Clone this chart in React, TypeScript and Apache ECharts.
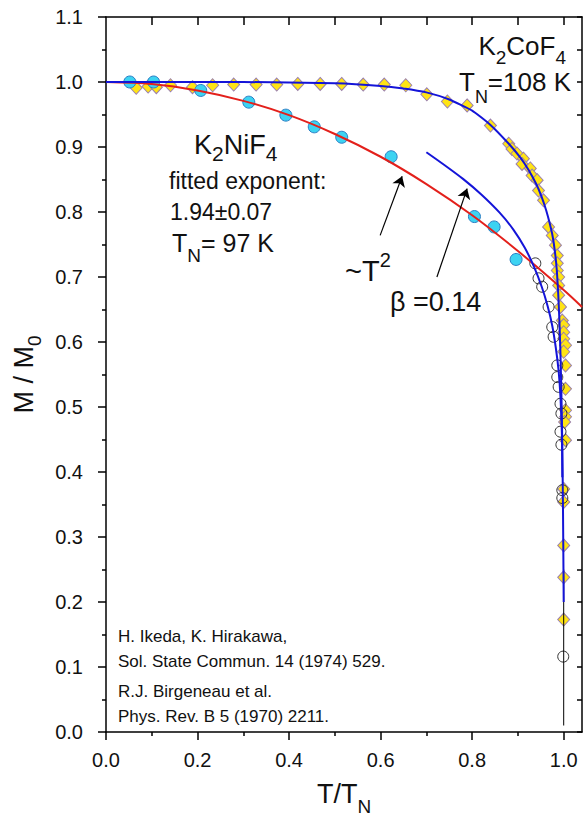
import React, { useEffect, useRef } from "react";
import * as echarts from "echarts";

// ---------- axis ticks ----------
const xMajorTicks = [0, 0.2, 0.4, 0.6, 0.8, 1.0];
const xMinorTicks = [0.1, 0.3, 0.5, 0.7, 0.9];
const xTopTicks = [0.1, 0.2, 0.3, 0.4, 0.5, 0.6, 0.7, 0.8, 0.9, 1.0];

// ---------- K2NiF4 (Ikeda & Hirakawa), filled cyan circles ----------
const niT = [0.052, 0.104, 0.207, 0.312, 0.393, 0.455, 0.515, 0.623, 0.805, 0.848, 0.896];
const niM = [1.0, 1.0, 0.987, 0.969, 0.949, 0.931, 0.915, 0.885, 0.793, 0.777, 0.727];

// ---------- K2CoF4 (Birgeneau et al.), yellow diamonds ----------
const coT = [
  0.066, 0.092, 0.11, 0.141, 0.189, 0.233, 0.279, 0.328, 0.373, 0.419, 0.468, 0.515, 0.562,
  0.608, 0.655, 0.701, 0.746, 0.789, 0.84, 0.88, 0.887, 0.898, 0.912, 0.909, 0.927, 0.931,
  0.942, 0.945, 0.956, 0.967, 0.975, 0.982, 0.986, 0.986, 0.986, 0.989, 0.989, 0.989, 0.993,
  0.997, 1.0, 1.0, 1.0, 1.004, 1.0, 1.004, 1.004, 1.004, 1.004, 1.002, 1.004, 1.0, 1.0, 1.0,
  1.0, 1.0,
];
const coM = [
  0.991, 0.993, 0.992, 0.995, 0.992, 0.995, 0.996, 0.996, 0.996, 0.997, 0.997, 0.997, 0.996,
  0.996, 0.995, 0.981, 0.97, 0.964, 0.933, 0.905, 0.897, 0.89, 0.882, 0.874, 0.867, 0.856,
  0.849, 0.833, 0.818, 0.777, 0.764, 0.749, 0.733, 0.721, 0.71, 0.7, 0.687, 0.672, 0.654,
  0.633, 0.626, 0.615, 0.605, 0.595, 0.585, 0.564, 0.528, 0.495, 0.485, 0.477, 0.449, 0.374,
  0.354, 0.287, 0.238, 0.173,
];

// ---------- K2NiF4 (Birgeneau et al.), open circles ----------
const openT = [0.938, 0.945, 0.953, 0.967, 0.975, 0.978, 0.986, 0.986, 0.989, 0.993, 0.995, 0.993, 0.995, 0.997, 0.997, 0.999];
const openM = [0.721, 0.698, 0.685, 0.654, 0.623, 0.608, 0.564, 0.546, 0.531, 0.505, 0.49, 0.462, 0.442, 0.372, 0.36, 0.116];

// ---------- curves ----------
const coFitT = [0, 0.3, 0.5, 0.6, 0.65, 0.7, 0.75, 0.8, 0.84, 0.88, 0.905, 0.923, 0.94, 0.952, 0.962, 0.97, 0.976, 0.981, 0.985, 0.988, 0.9905, 0.993, 0.995, 0.997, 0.9985, 0.9995, 1.0];
const coFitM = [1.0, 1.0, 0.998, 0.994, 0.99, 0.984, 0.973, 0.956, 0.934, 0.905, 0.884, 0.865, 0.843, 0.823, 0.802, 0.781, 0.762, 0.738, 0.71, 0.675, 0.635, 0.58, 0.52, 0.44, 0.34, 0.25, 0.2];

const niFitT = [0, 0.1, 0.2, 0.3, 0.4, 0.5, 0.6, 0.7, 0.8, 0.9, 1.0, 1.04];
const niFitM = [1.0, 0.997, 0.987, 0.971, 0.949, 0.92, 0.885, 0.843, 0.795, 0.74, 0.68, 0.654];

const betaT = [0.7, 0.74, 0.78, 0.82, 0.86, 0.89, 0.915, 0.935, 0.952, 0.965, 0.975, 0.983, 0.989, 0.993, 0.996, 0.997];
const betaM = [0.892, 0.872, 0.851, 0.827, 0.799, 0.773, 0.745, 0.716, 0.685, 0.655, 0.625, 0.59, 0.555, 0.515, 0.46, 0.392];

const tnLineT = [1.0, 1.0];
const tnLineM = [0.01, 0.25];

// arrows: [fromT, fromM, toT, toM]
const arrowT2 = [0.599, 0.764, 0.647, 0.855];
const arrowBeta = [0.723, 0.7, 0.789, 0.836];

const zip = (a: number[], b: number[]) => a.map((v, i) => [v, b[i]]);

const FONT = "'Liberation Sans', Arial, Helvetica, sans-serif";
const INK = "#111";

const tok = (fs: number, padTop = 0, padBottom = 0) => ({
  fontSize: fs,
  lineHeight: fs,
  fontFamily: FONT,
  color: INK,
  fill: INK,
  verticalAlign: "top",
  padding: [padTop, 0, padBottom, 0],
});

const txt = (x: number, y: number, text: string, rich: any, align = "left") => ({
  type: "text",
  x,
  y,
  silent: true,
  style: {
    text,
    rich,
    fill: INK,
    fontFamily: FONT,
    align,
    verticalAlign: "top",
  },
});

export default function App() {
  const ref = useRef<HTMLDivElement>(null);

  useEffect(() => {
    if (!ref.current) return;
    const chart = echarts.init(ref.current, undefined, { renderer: "svg" });
    const axisLine = { show: true, onZero: false, lineStyle: { color: "#000", width: 1.5 } };
    const tickStyle = { color: "#000", width: 1.5 };

    const option: any = {
      animation: false,
      backgroundColor: "#fff",
      grid: { left: 106, right: 3, top: 17, bottom: 84, containLabel: false, outerBoundsMode: "none" },
      xAxis: [
        {
          type: "value",
          min: 0,
          max: 1.04,
          position: "bottom",
          axisLine,
          axisTick: { show: true, inside: false, length: 8, customValues: xMajorTicks, lineStyle: tickStyle },
          axisLabel: {
            customValues: xMajorTicks,
            formatter: (v: number) => v.toFixed(1),
            fontSize: 20,
            fontFamily: FONT,
            color: INK,
            margin: 18,
          },
          splitLine: { show: false },
          name: "{a|T/T}{s|N}",
          nameLocation: "middle",
          nameGap: 48,
          nameTextStyle: { rich: { a: tok(27), s: tok(19, 17) } },
        },
        {
          type: "value",
          min: 0,
          max: 1.04,
          position: "bottom",
          axisLine: { show: false, onZero: false },
          axisTick: { show: true, inside: false, length: 4, customValues: xMinorTicks, lineStyle: tickStyle },
          axisLabel: { show: false },
          splitLine: { show: false },
        },
        {
          type: "value",
          min: 0,
          max: 1.04,
          position: "top",
          axisLine,
          axisTick: { show: true, inside: true, length: 8, customValues: xTopTicks, lineStyle: tickStyle },
          axisLabel: { show: false },
          splitLine: { show: false },
        },
      ],
      yAxis: [
        {
          type: "value",
          min: 0,
          max: 1.1,
          interval: 0.1,
          position: "left",
          axisLine,
          axisTick: { show: true, inside: false, length: 8, lineStyle: tickStyle },
          minorTick: { show: true, splitNumber: 2, length: 4, lineStyle: tickStyle },
          axisLabel: {
            formatter: (v: number) => v.toFixed(1),
            fontSize: 20,
            fontFamily: FONT,
            color: INK,
            margin: 23,
          },
          splitLine: { show: false },
          minorSplitLine: { show: false },
          name: "{a|M / M}{s|0}",
          nameLocation: "middle",
          nameRotate: 90,
          nameGap: 67,
          nameTextStyle: { rich: { a: tok(27), s: tok(19, 15) } },
        },
        {
          type: "value",
          min: 0,
          max: 1.1,
          interval: 0.05,
          position: "right",
          axisLine,
          axisTick: { show: true, inside: true, length: 5, lineStyle: tickStyle },
          axisLabel: { show: false },
          splitLine: { show: false },
        },
      ],
      series: [
        {
          type: "scatter",
          silent: true,
          data: zip(coT, coM),
          symbol: "diamond",
          symbolSize: [12, 13],
          itemStyle: { color: "#ffe414", borderColor: "#9a7fae", borderWidth: 1, opacity: 1 },
        },
        {
          type: "scatter",
          silent: true,
          data: zip(openT, openM),
          symbol: "circle",
          symbolSize: 11,
          itemStyle: { color: "rgba(255,255,255,0)", borderColor: "#333", borderWidth: 1, opacity: 1 },
        },
        {
          type: "scatter",
          silent: true,
          data: zip(niT, niM),
          symbol: "circle",
          symbolSize: 12,
          itemStyle: { color: "#3dd3f2", borderColor: "#2a7ec4", borderWidth: 1, opacity: 1 },
        },
        {
          type: "line",
          silent: true,
          data: zip(tnLineT, tnLineM),
          showSymbol: false,
          lineStyle: { color: "#000", width: 1 },
        },
        {
          type: "line",
          silent: true,
          data: zip(niFitT, niFitM),
          showSymbol: false,
          smooth: 0.3,
          lineStyle: { color: "#e3201b", width: 2 },
        },
        {
          type: "line",
          silent: true,
          data: zip(betaT, betaM),
          showSymbol: false,
          smooth: 0.2,
          lineStyle: { color: "#1414d8", width: 2 },
        },
        {
          type: "line",
          silent: true,
          data: zip(coFitT, coFitM),
          showSymbol: false,
          smooth: 0.15,
          lineStyle: { color: "#1414d8", width: 2 },
        },
        {
          type: "line",
          silent: true,
          data: [],
          markLine: {
            silent: true,
            animation: false,
            symbol: ["none", "arrow"],
            symbolSize: 10,
            label: { show: false },
            lineStyle: { color: "#000", width: 1.2, type: "solid" },
            data: [
              [{ coord: [arrowT2[0], arrowT2[1]] }, { coord: [arrowT2[2], arrowT2[3]] }],
              [{ coord: [arrowBeta[0], arrowBeta[1]] }, { coord: [arrowBeta[2], arrowBeta[3]] }],
            ],
          },
        },
      ],
      graphic: {
        elements: [
          txt(566, 33, "{m|K}{s|2}{m|CoF}{s|4}", { m: tok(26), s: tok(19, 15) }, "right"),
          txt(571, 69, "{m|T}{s|N}{m|=108 K}", { m: tok(26), s: tok(18, 19) }, "right"),
          txt(194, 131, "{m|K}{s|2}{m|NiF}{s|4}", { m: tok(27), s: tok(21, 12) }),
          txt(169, 169, "{m|fitted exponent:}", { m: tok(23) }),
          txt(170, 200, "{m|1.94±0.07}", { m: tok(23) }),
          txt(172, 230, "{m|T}{s|N}{m|= 97 K}", { m: tok(25), s: tok(19, 16) }),
          txt(345, 250, "{m|~T}{p|2}", { m: tok(29, 6), p: tok(20) }),
          txt(390, 288, "{m|β =0.14}", { m: tok(27) }),
          txt(118, 628, "{m|H. Ikeda, K. Hirakawa,}", { m: tok(17) }),
          txt(118, 653, "{m|Sol. State Commun. 14 (1974) 529.}", { m: tok(17) }),
          txt(118, 683, "{m|R.J. Birgeneau et al.}", { m: tok(17) }),
          txt(118, 708, "{m|Phys. Rev. B 5 (1970) 2211.}", { m: tok(17) }),
        ],
      },
    };

    chart.setOption(option);
    return () => chart.dispose();
  }, []);

  return (
    <div
      ref={ref}
      style={{ position: "fixed", left: 0, top: 0, width: 585, height: 816, background: "#fff" }}
    />
  );
}
